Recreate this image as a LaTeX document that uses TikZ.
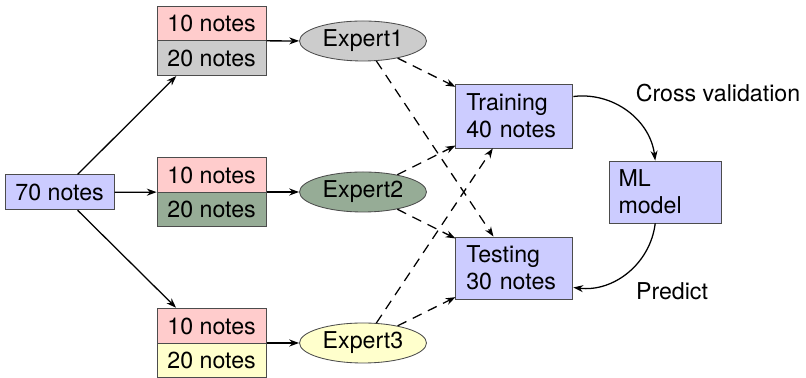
\documentclass[tikz,border=0pt]{standalone}
\usepackage{fontspec}
\setmainfont{TeX Gyre Heros}
\usepackage{tikz}
\usetikzlibrary{arrows.meta,positioning,shapes.geometric,shapes.multipart}

\definecolor{cellred}{RGB}{255,204,204}
\definecolor{cellgray}{RGB}{204,204,204}
\definecolor{cellgreen}{RGB}{150,172,150}
\definecolor{cellyellow}{RGB}{255,255,204}
\definecolor{cellblue}{RGB}{204,204,255}

\begin{document}
\begin{tikzpicture}[
    every node/.style={font=\fontsize{16.5}{19.5}\selectfont},
    box/.style={draw=black!70, line width=0.6pt, fill=cellblue, align=left,
                inner xsep=0.26cm},
    stack/.style={draw=black!70, line width=0.6pt, rectangle split, rectangle split parts=2,
                  minimum width=2.725cm, text height=12pt, text depth=0pt, inner ysep=6.1pt},
    expert/.style={ellipse, draw=black!70, line width=0.6pt, minimum width=3.175cm,
                   minimum height=1.0cm, inner sep=0pt},
    arrow/.style={-{Stealth[length=7pt,width=5pt]}, line width=0.9pt},
    darrow/.style={arrow, dash pattern=on 7pt off 5pt}
]
\useasboundingbox (0,0) rectangle (20.15,9.45);

% --- All notes ---
\node[box, minimum width=2.725cm, minimum height=0.875cm, align=center, inner xsep=0pt] (all) at (1.49,4.64) {70 notes};

% --- Splits per expert ---
\node[stack, rectangle split part fill={cellred,cellgray}]   (split1) at (5.29,8.43)
    {10 notes \nodepart{two} 20 notes};
\node[stack, rectangle split part fill={cellred,cellgreen}]  (split2) at (5.29,4.65)
    {10 notes \nodepart{two} 20 notes};
\node[stack, rectangle split part fill={cellred,cellyellow}] (split3) at (5.29,0.875)
    {10 notes \nodepart{two} 20 notes};

% --- Experts ---
\node[expert, fill=cellgray]   (exp1) at (9.075,8.425) {Expert1};
\node[expert, fill=cellgreen]  (exp2) at (9.075,4.65)  {Expert2};
\node[expert, fill=cellyellow] (exp3) at (9.075,0.875) {Expert3};

% --- Data sets and model ---
\node[box, text width=2.405cm, minimum height=1.6cm]  (train) at (12.86,6.55) {Training\\40 notes};
\node[box, text width=2.405cm, minimum height=1.55cm] (test)  at (12.86,2.75) {Testing\\30 notes};
\node[box, text width=2.355cm, minimum height=1.55cm, inner xsep=0.22cm] (ml) at (16.64,4.65) {ML\\model};

% --- Arrows: notes to splits ---
\draw[arrow] (all) -- (split1);
\draw[arrow] (all) -- (split2);
\draw[arrow] (all) -- (split3);

% --- Arrows: splits to experts ---
\draw[arrow] (split1) -- (exp1);
\draw[arrow] (split2) -- (exp2);
\draw[arrow] (split3) -- (exp3);

% --- Arrows: experts to data sets ---
\foreach \e in {exp1,exp2,exp3} {
    \draw[darrow] (\e) -- (train);
    \draw[darrow] (\e) -- (test);
}

% --- Arrows: model loop ---
\draw[arrow] (train) to[bend left=45] (ml);
\draw[arrow] (ml) to[bend left=45] (test);

% --- Labels ---
\node (cv)   at (17.95,7.125) {Cross validation};
\node (pred) at (16.8,2.175)  {Predict};

\end{tikzpicture}
\end{document}
